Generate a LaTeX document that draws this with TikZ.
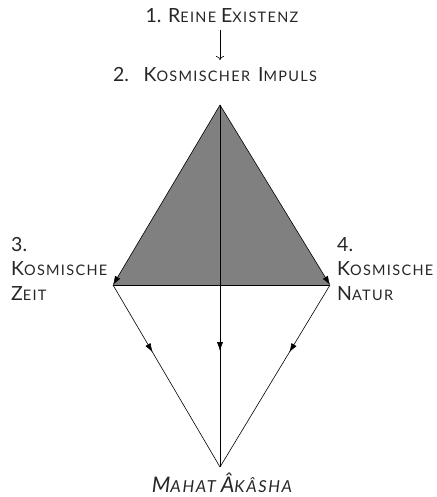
\documentclass[tikz,border=0pt]{standalone}
\usepackage{fontspec}
\setmainfont{Lato}
\usetikzlibrary{arrows.meta,decorations.markings}
\newcommand\fsc[2]{#1{\fontsize{14.5}{15}\selectfont\addfontfeature{LetterSpace=9}#2}}
\newcommand\fscb[2]{#1{\fontsize{16.5}{17}\selectfont\addfontfeature{LetterSpace=10}#2}}
\tikzset{
  lbl/.style={inner sep=0pt,font=\fontsize{19.5}{24.5}\selectfont,text=black!85},
  edge/.style={line width=0.6pt},
  tip/.style={-{Latex[length=9pt,width=6pt]}},
  midarrow/.style={postaction={decorate},decoration={markings,mark=at position #1 with {\arrow{Latex[length=9pt,width=6pt]}}}},
}
\begin{document}
\begin{tikzpicture}[x=1pt,y=-1pt]
\useasboundingbox (0,0) rectangle (436,497);
\node[lbl,anchor=base] (n1) at (222,23) {1. \fsc{R}{EINE} \fsc{E}{XISTENZ}};
\node[lbl,anchor=base] (n2) at (215,82) {2.\hspace{8pt} \fsc{K}{OSMISCHER}\hspace{3pt} \fsc{I}{MPULS}};
\coordinate (A) at (220,105);
\coordinate (L) at (113,285);
\coordinate (R) at (330,285);
\coordinate (B) at (220,467);
\coordinate (t1) at (220,30);
\coordinate (t2) at (220,60);
\draw[edge,-{To[length=4pt,width=8pt]}] (t1) -- (t2);
\fill[gray!100] (A) -- (L) -- (R) -- cycle;
\draw[edge] (L) -- (R);
\draw[edge,tip] (A) -- (L);
\draw[edge,tip] (A) -- (R);
\draw[edge,midarrow=0.68] (A) -- (B);
\draw[edge,midarrow=0.37] (L) -- (B);
\draw[edge,midarrow=0.37] (R) -- (B);
\node[lbl,anchor=base west,align=left] (n3) at (11,300) {3.\\\fsc{K}{OSMISCHE}\\\fsc{Z}{EIT}};
\node[lbl,anchor=base west,align=left] (n4) at (337,300) {4.\\\fsc{K}{OSMISCHE}\\\fsc{N}{ATUR}};
\node[lbl,anchor=base,font=\fontsize{21.5}{24}\selectfont\itshape] (n5) at (222,492) {\fscb{M}{AHAT} \fscb{Â}{KÂSHA}};
\end{tikzpicture}
\end{document}
